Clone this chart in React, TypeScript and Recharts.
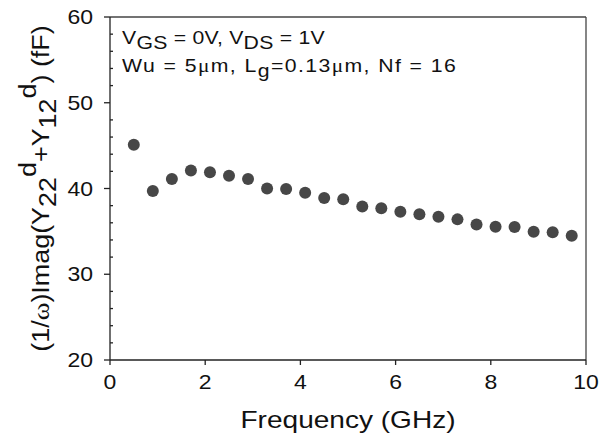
import React from 'react';
import { ScatterChart, Scatter, XAxis, YAxis, ReferenceLine, Label } from 'recharts';

// frequency (GHz) and (1/w)Imag(Y22d+Y12d) in fF
const freqGHz = [0.5, 0.9, 1.3, 1.7, 2.1, 2.5, 2.9, 3.3, 3.7, 4.1, 4.5, 4.9, 5.3, 5.7, 6.1, 6.5, 6.9, 7.3, 7.7, 8.1, 8.5, 8.9, 9.3, 9.7];
const capFF = [45.1, 39.7, 41.1, 42.1, 41.9, 41.5, 41.1, 40.0, 39.95, 39.5, 38.9, 38.75, 37.9, 37.7, 37.3, 37.0, 36.7, 36.4, 35.8, 35.55, 35.5, 34.95, 34.9, 34.5];

const xTicks = [0, 2, 4, 6, 8, 10];
const yTicks = [20, 22, 24, 26, 28, 30, 32, 34, 36, 38, 40, 42, 44, 46, 48, 50, 52, 54, 56, 58, 60];
const yLabelled = [20, 30, 40, 50, 60];

const data = freqGHz.map((f, i) => ({ f, c: capFF[i] }));

const FONT = '"Liberation Sans", Arial, sans-serif';
const INK = '#111';
const LINE = '#222';
const DOT = '#474747';

const XTick = (props: any) => {
  const { x, y, payload } = props;
  return (
    <g transform={`translate(${x},${y}) scale(1.15,1)`}>
      <text x={0} y={0} dy="0.71em" textAnchor="middle" fontSize={20} fontFamily={FONT} fill={INK}>
        {payload.value}
      </text>
    </g>
  );
};

// every 2 fF: labelled values get an outside tick and a number, the rest a short inside tick
const YTick = (props: any) => {
  const { x, y, payload } = props;
  const axisX = x + 17; // tickSize 6 + tickMargin 11
  const major = yLabelled.includes(payload.value);
  return (
    <g>
      <line
        x1={major ? axisX - 6 : axisX}
        x2={major ? axisX : axisX + 3}
        y1={y}
        y2={y}
        stroke={LINE}
        strokeWidth={1.3}
      />
      {major && (
        <g transform={`translate(${x},${y}) scale(1.15,1)`}>
          <text x={0} y={0} dy="0.355em" textAnchor="end" fontSize={20} fontFamily={FONT} fill={INK}>
            {payload.value}
          </text>
        </g>
      )}
    </g>
  );
};

const YTitle = (props: any) => {
  const vb = props.viewBox || { x: 0, y: 17, width: 110, height: 343 };
  const cx = vb.x + 49;
  const cy = vb.y + vb.height / 2;
  return (
    <g transform={`translate(${cx},${cy}) rotate(-90) scale(1.17,1)`}>
      <text x={0} y={0} textAnchor="middle" fontSize={23} fontFamily={FONT} fill={INK}>
        <tspan>(1/</tspan>
        <tspan fontFamily='"Liberation Serif", serif'>ω</tspan>
        <tspan>)Imag(Y</tspan>
        <tspan dy={7}>22</tspan>
        <tspan dy={-20}>d</tspan>
        <tspan dy={13}>+Y</tspan>
        <tspan dy={7}>12</tspan>
        <tspan dy={-20}>d</tspan>
        <tspan dy={13}>) (fF)</tspan>
      </text>
    </g>
  );
};

const XTitle = (props: any) => {
  const vb = props.viewBox || { x: 110, y: 360, width: 476, height: 82 };
  const cx = vb.x + vb.width / 2;
  return (
    <g transform={`translate(${cx},${vb.y + 68}) scale(1.22,1)`}>
      <text x={0} y={0} textAnchor="middle" fontSize={23} fontFamily={FONT} fill={INK}>
        Frequency (GHz)
      </text>
    </g>
  );
};

const Note = () => (
  <g fontFamily={FONT} fill={INK}>
    <g transform="translate(122,44) scale(1.18,1)">
      <text x={0} y={0} fontSize={18} letterSpacing={0.2}>
        <tspan>V</tspan>
        <tspan dy={5}>GS</tspan>
        <tspan dy={-5}> = 0V, V</tspan>
        <tspan dy={5}>DS</tspan>
        <tspan dy={-5}> = 1V</tspan>
      </text>
    </g>
    <g transform="translate(122,72) scale(1.18,1)">
      <text x={0} y={0} fontSize={18} letterSpacing={1.2}>
        <tspan>Wu = 5</tspan>
        <tspan fontFamily='"Liberation Serif", serif'>μ</tspan>
        <tspan>m, L</tspan>
        <tspan dy={5}>g</tspan>
        <tspan dy={-5}>=0.13</tspan>
        <tspan fontFamily='"Liberation Serif", serif'>μ</tspan>
        <tspan>m, Nf = 16</tspan>
      </text>
    </g>
  </g>
);

export default function App() {
  return (
    <div style={{ position: 'absolute', left: 0, top: 0, width: 610, height: 442, background: '#fff' }}>
      <ScatterChart width={610} height={442} margin={{ top: 17, right: 24, bottom: 0, left: 0 }}>
        <XAxis
          type="number"
          dataKey="f"
          domain={[0, 10]}
          ticks={xTicks}
          height={82}
          tickSize={5}
          tickMargin={10}
          tick={<XTick />}
          axisLine={{ stroke: LINE, strokeWidth: 1.3 }}
          tickLine={{ stroke: LINE, strokeWidth: 1.3 }}
          interval={0}
        >
          <Label content={<XTitle />} />
        </XAxis>
        <YAxis
          type="number"
          dataKey="c"
          domain={[20, 60]}
          ticks={yTicks}
          width={110}
          tickSize={6}
          tickMargin={11}
          tick={<YTick />}
          tickLine={false}
          axisLine={{ stroke: LINE, strokeWidth: 1.3 }}
          interval={0}
        >
          <Label content={<YTitle />} />
        </YAxis>
        <ReferenceLine y={60} stroke="#444" strokeWidth={1.3} />
        <ReferenceLine x={10} stroke="#444" strokeWidth={1.3} />
        <Scatter
          data={data}
          isAnimationActive={false}
          shape={(p: any) => <circle cx={p.cx} cy={p.cy} r={6} fill={DOT} />}
        />
        <Note />
      </ScatterChart>
    </div>
  );
}
